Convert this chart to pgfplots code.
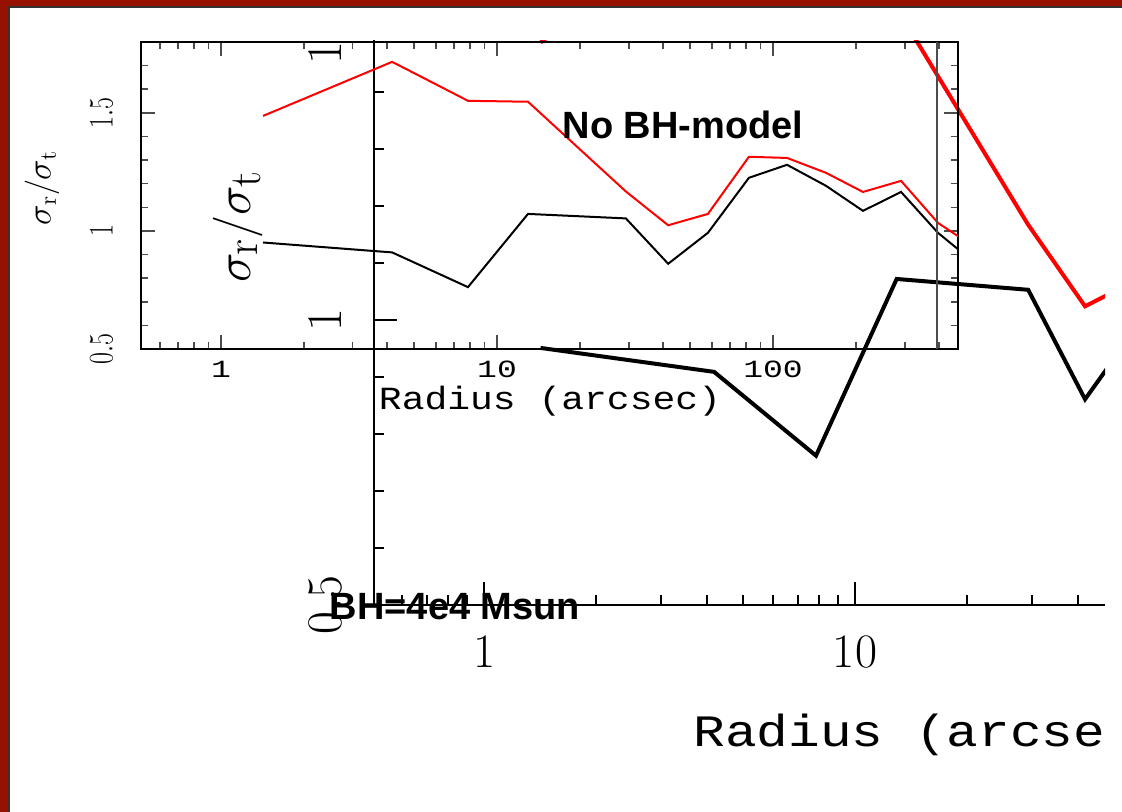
\documentclass[border=0pt]{standalone}
\usepackage{fontspec}
\usepackage{pgfplots}
\usepackage{pgfplotstable}
\pgfplotsset{compat=1.18}
\newfontfamily\monofont{Liberation Mono}
\newfontfamily\labelfont{Liberation Sans}
\definecolor{framered}{RGB}{150,17,0}

% radius (arcsec), sigma_r/sigma_t for the two models
\pgfplotstableread{
r      red    black
1.42   1.487  0.951
4.17   1.716  0.909
7.85   1.551  0.762
12.95  1.547  1.072
29.3   1.167  1.053
41.7   1.024  0.861
58.1   1.072  0.992
81.8   1.314  1.225
112.4  1.309  1.280
155.6  1.246  1.191
211.8  1.165  1.085
291    1.212  1.165
396    1.034  0.992
472    0.975  0.919
}\sigmadata

\begin{document}
\begin{tikzpicture}
\useasboundingbox (0,0) rectangle (561pt,-406pt);
% frame
\fill[framered] (0,0) rectangle (561pt,-406pt);
\fill[black!80] (4pt,-3pt) rectangle (561pt,-406pt);
\fill[white] (5pt,-4pt) rectangle (561pt,-406pt);

\begin{scope}
\clip (5pt,-20.5pt) rectangle (552.5pt,-406pt);

% large plot (partly cut off)
\begin{axis}[
  at={(187pt,-302.5pt)}, anchor=south west,
  scale only axis, width=365.5pt, height=285pt,
  xmode=log, xmin=0.505, xmax=47.2, ymin=0.5, ymax=1.5,
  axis x line*=bottom, axis y line*=left,
  axis line style={line width=1pt, -},
  tick align=inside, major tick length=11.5pt, minor tick length=5pt,
  tick style={line width=1pt, black},
  xtick={1,10}, xticklabels={1,10},
  minor xtick={0.6,0.7,0.8,0.9,2,3,4,5,6,7,8,9,20,30,40},
  ytick={0.5,1,1.5},
  minor ytick={0.6,0.7,0.8,0.9,1.1,1.2,1.3,1.4},
  xticklabel style={anchor=north, inner sep=0pt, font=\fontsize{24}{26}\selectfont},
  xticklabel shift=15pt,
  yticklabel style={rotate=90, anchor=south, inner sep=0pt, font=\fontsize{26}{28}\selectfont},
  yticklabel shift=16pt,
]
\addplot[red, line width=2pt] table[x=r, y=red] {\sigmadata};
\addplot[black, line width=2pt] table[x=r, y=black] {\sigmadata};
\end{axis}

% inset plot
\begin{axis}[
  at={(70.5pt,-174.5pt)}, anchor=south west,
  scale only axis, width=408.5pt, height=153.5pt,
  xmode=log, xmin=0.513, xmax=468, ymin=0.5, ymax=1.8,
  axis line style={line width=0.8pt},
  tick align=inside, major tick length=7pt, minor tick length=3.5pt,
  tick style={black!70, line width=0.8pt},
  xtick={1,10,100}, xticklabels={1,10,100},
  minor xtick={0.6,0.7,0.8,0.9,2,3,4,5,6,7,8,9,20,30,40,50,60,70,80,90,200,300,400},
  ytick={0.5,1,1.5},
  minor ytick={0.6,0.7,0.8,0.9,1.1,1.2,1.3,1.4,1.6,1.7},
  xticklabel style={anchor=north, inner sep=0pt, yscale=0.75,
    font=\monofont\fontsize{16.5}{18}\selectfont},
  xticklabel shift=6pt,
  yticklabel style={rotate=90, xscale=0.75, anchor=south, inner sep=0pt,
    font=\fontsize{16}{18}\selectfont},
  yticklabel shift=14pt,
]
\addplot[red, line width=1pt] table[x=r, y=red] {\sigmadata};
\addplot[black, line width=1pt] table[x=r, y=black] {\sigmadata};
\addplot[black!70, line width=0.6pt] coordinates {(393,0.5) (393,1.8)};
\end{axis}

% labels
\node[rotate=90, font=\fontsize{32}{34}\selectfont] at (119pt,-113.5pt)
  {$\sigma_{\mathrm{r}}/\sigma_{\mathrm{t}}$};
\node[rotate=90, font=\fontsize{17}{19}\selectfont] at (21pt,-94pt)
  {$\sigma_{\mathrm{r}}/\sigma_{\mathrm{t}}$};
\node[yscale=0.85, font=\monofont\fontsize{19}{21}\selectfont] at (275pt,-200.5pt)
  {Radius (arcsec)};
\node[anchor=west, inner sep=0pt, yscale=0.85, font=\monofont\fontsize{26.4}{28}\selectfont]
  at (346.5pt,-367.5pt) {Radius (arcsec)};
\node[font=\labelfont\bfseries\fontsize{19}{21}\selectfont] at (341.5pt,-62.5pt)
  {No BH-model};
\node[font=\labelfont\bfseries\fontsize{19}{21}\selectfont] at (227.5pt,-303.5pt)
  {BH=4e4 Msun};
\end{scope}
\end{tikzpicture}
\end{document}
